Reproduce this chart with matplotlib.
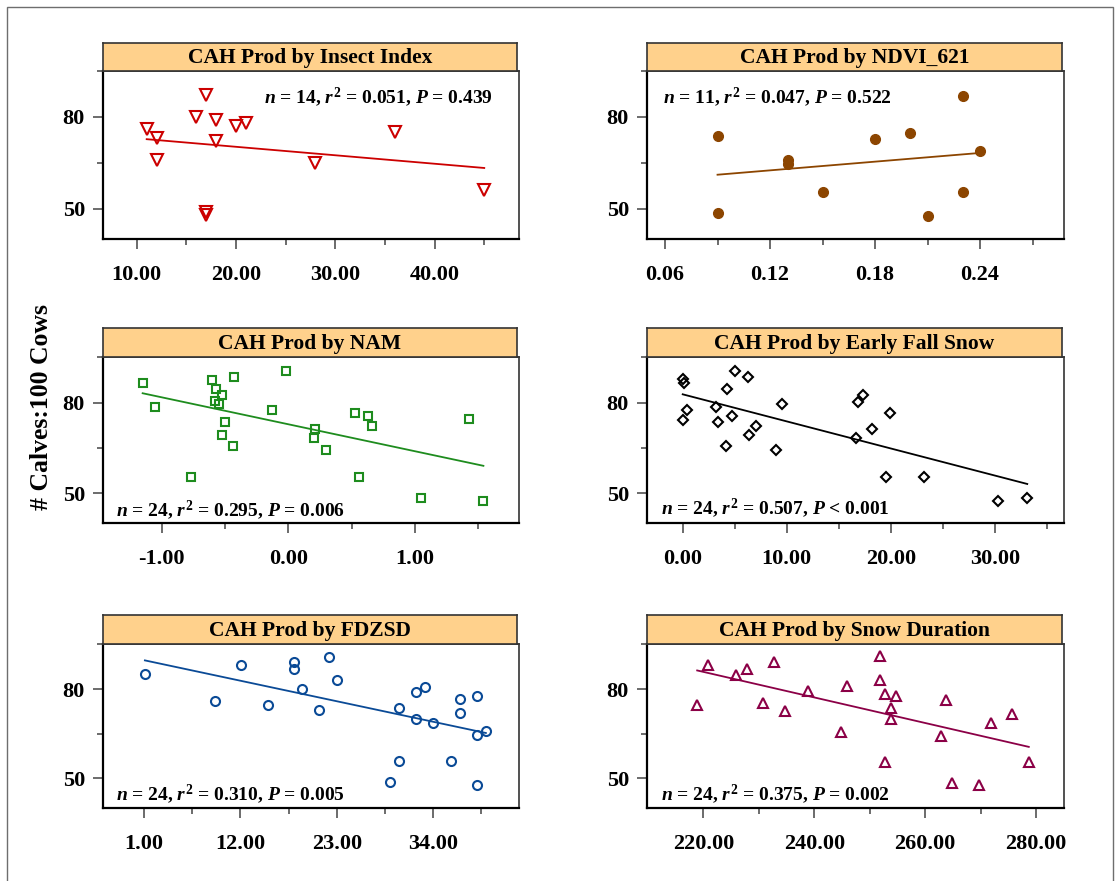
import numpy as np
import matplotlib
matplotlib.use('Agg')
import matplotlib.pyplot as plt
from matplotlib.patches import Rectangle
from matplotlib.ticker import FixedLocator, FormatStrFormatter

plt.rcParams.update({
    'font.family': 'Liberation Serif',
    'font.weight': 'bold',
    'mathtext.fontset': 'custom',
    'mathtext.rm': 'Liberation Serif:bold',
    'mathtext.it': 'Liberation Serif:italic:bold',
    'mathtext.bf': 'Liberation Serif:bold',
})

# ---- data ----
insect_x = [11, 12, 12, 16, 17, 18, 18, 17, 17, 20, 21, 28, 36, 45]
insect_y = [76, 73, 66, 80, 87, 79, 72, 49, 48, 77, 78, 65, 75, 56]

ndvi_x = [0.09, 0.09, 0.13, 0.13, 0.15, 0.18, 0.20, 0.21, 0.23, 0.23, 0.24]
ndvi_y = [73.6, 48.6, 65.8, 64.7, 55.5, 72.7, 74.7, 47.7, 86.8, 55.5, 68.8]

nam_x = [-1.15, -1.05, -0.77, -0.60, -0.57, -0.58, -0.55, -0.52, -0.50, -0.52, -0.43, -0.44,
         -0.02, -0.13, 0.21, 0.20, 0.30, 0.53, 0.56, 0.63, 0.66, 1.05, 1.43, 1.54]
nam_y = [86.6, 78.5, 55.4, 87.5, 84.5, 80.6, 79.5, 82.5, 73.4, 69.4, 88.5, 65.5,
         90.6, 77.5, 71.4, 68.4, 64.4, 76.5, 55.4, 75.4, 72.4, 48.3, 74.4, 47.3]

efs_x = [0.0, 0.1, 0.0, 0.4, 3.2, 3.4, 4.3, 5.0, 4.7, 4.2, 6.3, 7.0,
         6.4, 9.5, 9.0, 16.8, 17.3, 16.6, 18.2, 19.9, 19.5, 23.2, 30.3, 33.1]
efs_y = [87.7, 86.6, 74.2, 77.5, 78.5, 73.6, 84.5, 90.6, 75.4, 65.5, 88.5, 72.4,
         69.4, 79.5, 64.4, 80.3, 82.5, 68.4, 71.4, 76.5, 55.4, 55.4, 47.3, 48.3]

fdzsd_x = [1.1, 9.1, 12.1, 15.1, 18.1, 18.1, 19.0, 21.0, 22.1, 23.0, 29.1, 30.1,
           30.1, 32.0, 32.0, 33.0, 34.0, 36.0, 37.0, 37.0, 39.0, 39.0, 39.0, 40.0]
fdzsd_y = [84.9, 75.9, 87.9, 74.8, 88.9, 86.8, 79.9, 72.8, 90.8, 82.9, 48.8, 73.8,
           55.8, 78.9, 69.8, 80.8, 68.7, 55.8, 76.8, 71.8, 77.8, 64.7, 47.8, 65.8]

snowdur_x = [218.9, 220.9, 225.9, 227.8, 230.8, 232.8, 234.7, 238.9, 244.9, 245.9, 251.8, 251.8,
             252.7, 252.7, 253.8, 253.8, 254.7, 262.8, 263.7, 264.8, 269.7, 271.8, 275.7, 278.7]
snowdur_y = [74.5, 87.9, 84.8, 86.6, 75.3, 89.0, 72.6, 79.5, 65.5, 81.0, 91.0, 83.0,
             78.3, 55.4, 73.7, 69.8, 77.5, 64.4, 76.4, 48.5, 47.7, 68.7, 71.5, 55.6]

titles = ['CAH Prod by Insect Index', 'CAH Prod by NDVI_621', 'CAH Prod by NAM',
          'CAH Prod by Early Fall Snow', 'CAH Prod by FDZSD', 'CAH Prod by Snow Duration']
stats = ['$n$ = 14, $r^2$ = 0.051, $P$ = 0.439',
         '$n$ = 11, $r^2$ = 0.047, $P$ = 0.522',
         '$n$ = 24, $r^2$ = 0.295, $P$ = 0.006',
         '$n$ = 24, $r^2$ = 0.507, $P$ < 0.001',
         '$n$ = 24, $r^2$ = 0.310, $P$ = 0.005',
         '$n$ = 24, $r^2$ = 0.375, $P$ = 0.002']
major_x = [[10, 20, 30, 40], [0.06, 0.12, 0.18, 0.24], [-1, 0, 1],
           [0, 10, 20, 30], [1, 12, 23, 34], [220, 240, 260, 280]]
minor_x = [[15, 25, 35, 45], [0.09, 0.15, 0.21, 0.27], [-0.5, 0.5, 1.5],
           [5, 15, 25, 35], [6.5, 17.5, 28.5, 39.5], [230, 250, 270]]
y_major = [50, 80]
y_minor = [65, 95]

panels = [
    (insect_x, insect_y, '#CC0000', 'v', 8, 'none', (6.6, 48.5)),
    (ndvi_x, ndvi_y, '#8C4500', 'o', 7, 'fill', (0.0497, 0.288)),
    (nam_x, nam_y, '#1E8C1E', 's', 6, 'none', (-1.463, 1.821)),
    (efs_x, efs_y, '#000000', 'D', 5.5, 'none', (-3.43, 36.63)),
    (fdzsd_x, fdzsd_y, '#0A4A96', 'o', 6.5, 'none', (-3.68, 43.78)),
    (snowdur_x, snowdur_y, '#8B0046', '^', 7, 'none', (209.85, 285.05)),
]
# text anchor (x, y, ha, va) in axes coords
stat_pos = [(0.9375, 0.845, 'right'), (0.038, 0.845, 'left'), (0.031, 0.078, 'left'),
            (0.033, 0.088, 'left'), (0.031, 0.08, 'left'), (0.033, 0.08, 'left')]

W, H = 1118, 881
fig = plt.figure(figsize=(W / 100, H / 100), dpi=100)

col_left = [103, 647]
col_width = [416, 417]
rows = [(43, 71, 238.7), (328, 357.3, 522.7), (615, 644.3, 807.7)]

# outer frame
fig.patches.append(Rectangle((7 / W, -0.05), (1113 - 7) / W, 1 - 7 / H + 0.05,
                             transform=fig.transFigure, fill=False,
                             edgecolor='#6e6e6e', lw=1.0))

for i, (xs, ys, color, marker, ms, fill, xlim) in enumerate(panels):
    r, c = divmod(i, 2)
    htop, ptop, pbot = rows[r]
    left = col_left[c] / W
    width = col_width[c] / W
    ax = fig.add_axes([left, 1 - pbot / H, width, (pbot - ptop) / H])
    hax = fig.add_axes([left, 1 - ptop / H, width - 2 / W, (ptop - htop) / H])

    hax.set_facecolor('#FFD18C')
    hax.set_xticks([])
    hax.set_yticks([])
    for sp in hax.spines.values():
        sp.set_color('#333333')
        sp.set_linewidth(1.2)
    hax.text(0.5, 0.45, titles[i], ha='center', va='center', fontsize=15.5,
             fontweight='bold', transform=hax.transAxes)

    x = np.array(xs, dtype=float)
    y = np.array(ys, dtype=float)
    if fill == 'fill':
        ax.plot(x, y, linestyle='none', marker=marker, ms=ms, mfc=color, mec=color, zorder=3)
    else:
        ax.plot(x, y, linestyle='none', marker=marker, ms=ms, mfc='none', mec=color,
                mew=1.5, zorder=3)
    slope, icpt = np.polyfit(x, y, 1)
    xx = np.array([x.min(), x.max()])
    ax.plot(xx, slope * xx + icpt, color=color, lw=1.3, zorder=2)

    ax.set_xlim(*xlim)
    ax.set_ylim(40.2, 95)
    ax.xaxis.set_major_locator(FixedLocator(major_x[i]))
    ax.xaxis.set_minor_locator(FixedLocator(minor_x[i]))
    ax.xaxis.set_major_formatter(FormatStrFormatter('%.2f'))
    ax.yaxis.set_major_locator(FixedLocator(y_major))
    ax.yaxis.set_minor_locator(FixedLocator(y_minor))

    ax.tick_params(axis='both', which='major', length=7, width=1.1, color='#444444',
                   labelsize=16, direction='out')
    ax.tick_params(axis='both', which='minor', length=4, width=1.1, color='#444444',
                   direction='out')
    ax.tick_params(axis='x', which='major', pad=12)
    ax.tick_params(axis='y', which='major', pad=6)
    for lab in ax.get_xticklabels() + ax.get_yticklabels():
        lab.set_fontweight('bold')

    for sp in ['left', 'bottom']:
        ax.spines[sp].set_color('black')
        ax.spines[sp].set_linewidth(1.6)
    for sp in ['right', 'top']:
        ax.spines[sp].set_color('#333333')
        ax.spines[sp].set_linewidth(1.2)

    tx, ty, ha = stat_pos[i]
    ax.text(tx, ty, stats[i], transform=ax.transAxes, ha=ha, va='center',
            fontsize=14, fontweight='bold')

fig.text(42 / W, 1 - 407 / H, '# Calves:100 Cows', rotation=90, ha='center', va='center',
         fontsize=18.5, fontweight='bold')

fig.savefig('out.png', dpi=100)
